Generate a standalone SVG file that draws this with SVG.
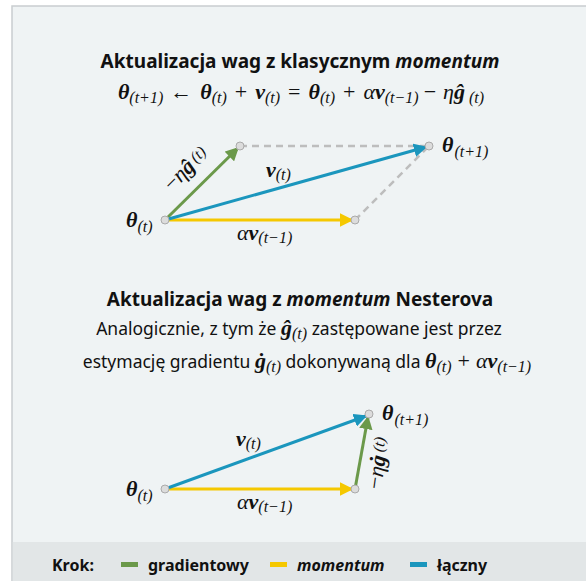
<svg xmlns="http://www.w3.org/2000/svg" width="586" height="581" viewBox="0 0 586 581">
<defs>
<style>
.h{font-family:"Noto Sans","Open Sans",sans-serif;font-weight:bold;font-size:19px;fill:#111}
.t{font-family:"Noto Sans","Open Sans",sans-serif;font-size:17.5px;fill:#111}
.m{font-family:"Liberation Serif","DejaVu Serif",serif;font-size:22px;fill:#111}
.mb{font-weight:bold;font-style:italic}
.mi{font-style:italic}
.s{font-size:16px;font-style:italic;font-weight:normal}
.lg{font-family:"Noto Sans","Open Sans",sans-serif;font-weight:bold;font-size:16px;fill:#111}
.dash{stroke:#bdbdbd;stroke-width:2.5;stroke-dasharray:7 5;fill:none}
.pt{fill:#dcdcdc;stroke:#aaaaaa;stroke-width:1}
.g{stroke:#6b994a;stroke-width:3;fill:none}
.y{stroke:#f5c800;stroke-width:3;fill:none}
.b{stroke:#1b96bd;stroke-width:3;fill:none}
</style>
<marker id="ag" viewBox="0 0 10 10" refX="9" refY="5" markerWidth="4.5" markerHeight="4.5" orient="auto" markerUnits="strokeWidth"><path d="M0,0 L10,5 L0,10 z" fill="#6b994a"/></marker>
<marker id="ay" viewBox="0 0 10 10" refX="9" refY="5" markerWidth="4.5" markerHeight="4.5" orient="auto" markerUnits="strokeWidth"><path d="M0,0 L10,5 L0,10 z" fill="#f5c800"/></marker>
<marker id="ab" viewBox="0 0 10 10" refX="9" refY="5" markerWidth="4.5" markerHeight="4.5" orient="auto" markerUnits="strokeWidth"><path d="M0,0 L10,5 L0,10 z" fill="#1b96bd"/></marker>
</defs>
<rect x="0" y="0" width="586" height="581" fill="#ffffff"/>
<rect x="12" y="6" width="580" height="580" fill="#eff3f4" stroke="#c9cdcf" stroke-width="1.5"/>
<rect x="12.75" y="542" width="580" height="45" fill="#e2e6e7"/>

<g id="title1">
<text class="h" x="300" y="68" text-anchor="middle">Aktualizacja wag z klasycznym <tspan font-style="italic">momentum</tspan></text>
<text class="m" x="301" y="99" text-anchor="middle"><tspan class="mb">θ</tspan><tspan class="s" dy="4">(t+1)</tspan><tspan dy="-4" dx="7">←</tspan><tspan class="mb" dx="8">θ</tspan><tspan class="s" dy="4">(t)</tspan><tspan dy="-4" dx="8">+</tspan><tspan class="mb" dx="8">ν</tspan><tspan class="s" dy="4">(t)</tspan><tspan dy="-4" dx="8">=</tspan><tspan class="mb" dx="8">θ</tspan><tspan class="s" dy="4">(t)</tspan><tspan dy="-4" dx="8">+</tspan><tspan class="mi" dx="8">α</tspan><tspan class="mb">ν</tspan><tspan class="s" dy="4">(t−1)</tspan><tspan dy="-4" dx="5">−</tspan><tspan class="mi" dx="7">η</tspan><tspan class="mb">ĝ</tspan><tspan class="s" dy="4" dx="4">(t)</tspan></text>
</g>

<g id="connectors">
<line class="dash" x1="240" y1="146" x2="429" y2="146"/>
<line class="dash" x1="355" y1="220" x2="429" y2="146"/>
<line class="g" x1="165" y1="220" x2="238" y2="148" marker-end="url(#ag)"/>
<line class="y" x1="165" y1="220" x2="352" y2="220" marker-end="url(#ay)"/>
<line class="b" x1="165" y1="220" x2="426" y2="147" marker-end="url(#ab)"/>
<line class="y" x1="165" y1="489" x2="352" y2="489" marker-end="url(#ay)"/>
<line class="g" x1="355" y1="489" x2="368" y2="417" marker-end="url(#ag)"/>
<line class="b" x1="165" y1="489" x2="366" y2="416" marker-end="url(#ab)"/>
</g>

<g id="node-theta-t-1">
<circle class="pt" cx="165" cy="220" r="4"/>
<text class="m" x="126" y="227" font-size="23"><tspan class="mb">θ</tspan><tspan class="s" dy="5" font-size="17">(t)</tspan></text>
</g>
<g id="node-g-1"><circle class="pt" cx="240" cy="146" r="4"/></g>
<g id="node-alpha-1"><circle class="pt" cx="355" cy="220" r="4"/></g>
<g id="node-theta-t1-1">
<circle class="pt" cx="429" cy="146" r="4"/>
<text class="m" x="442" y="152" font-size="23"><tspan class="mb">θ</tspan><tspan class="s" dy="5" font-size="17" dx="1">(t+1)</tspan></text>
</g>
<g id="labels-1">
<text class="m" x="266" y="177" font-size="20"><tspan class="mb">ν</tspan><tspan class="s" dy="3" font-size="15">(t)</tspan></text>
<text class="m" x="237" y="240" font-size="20"><tspan class="mi">α</tspan><tspan class="mb">ν</tspan><tspan class="s" dy="3" font-size="15">(t−1)</tspan></text>
<text class="m" transform="translate(172,192) rotate(-45)" font-size="21"><tspan>−</tspan><tspan class="mi">η</tspan><tspan class="mb">ĝ</tspan><tspan class="s" dy="-3" dx="3" font-size="14">(t)</tspan></text>
</g>

<g id="title2">
<text class="h" x="300" y="306" text-anchor="middle">Aktualizacja wag z <tspan font-style="italic">momentum</tspan> Nesterova</text>
<text class="t" x="299" y="335" text-anchor="middle">Analogicznie, z tym że <tspan class="m mb" font-size="21">ĝ</tspan><tspan class="m s" dy="4">(t)</tspan><tspan dy="-4"> zastępowane jest przez</tspan></text>
<text class="t" x="307" y="368" text-anchor="middle">estymację gradientu <tspan class="m mb" font-size="21">ġ</tspan><tspan class="m s" dy="4">(t)</tspan><tspan dy="-4"> dokonywaną dla </tspan><tspan class="m mb" font-size="21">θ</tspan><tspan class="m s" dy="4">(t)</tspan><tspan class="m" font-size="21" dy="-4" dx="6">+</tspan><tspan class="m mi" font-size="21" dx="6">α</tspan><tspan class="m mb" font-size="21">ν</tspan><tspan class="m s" dy="4">(t−1)</tspan></text>
</g>

<g id="node-theta-t-2">
<circle class="pt" cx="165" cy="489" r="4"/>
<text class="m" x="126" y="496" font-size="23"><tspan class="mb">θ</tspan><tspan class="s" dy="5" font-size="17">(t)</tspan></text>
</g>
<g id="node-alpha-2"><circle class="pt" cx="355" cy="489" r="4"/></g>
<g id="node-theta-t1-2">
<circle class="pt" cx="369" cy="414" r="4"/>
<text class="m" x="382" y="420" font-size="23"><tspan class="mb">θ</tspan><tspan class="s" dy="5" font-size="17" dx="1">(t+1)</tspan></text>
</g>
<g id="labels-2">
<text class="m" x="236" y="446" font-size="20"><tspan class="mb">ν</tspan><tspan class="s" dy="3" font-size="15">(t)</tspan></text>
<text class="m" x="237" y="509" font-size="20"><tspan class="mi">α</tspan><tspan class="mb">ν</tspan><tspan class="s" dy="3" font-size="15">(t−1)</tspan></text>
<text class="m" transform="translate(381,490) rotate(-82)" font-size="21"><tspan>−</tspan><tspan class="mi">η</tspan><tspan class="mb">ġ</tspan><tspan class="s" dy="-3" dx="3" font-size="14">(t)</tspan></text>
</g>

<g id="legend">
<text class="lg" x="52" y="571">Krok:</text>
<rect x="121" y="562" width="17" height="5" fill="#6b994a"/>
<text class="lg" x="148" y="571">gradientowy</text>
<rect x="270" y="562" width="17" height="5" fill="#f5c800"/>
<text class="lg" x="297" y="571" font-style="italic">momentum</text>
<rect x="410" y="562" width="17" height="5" fill="#1b96bd"/>
<text class="lg" x="437" y="571">łączny</text>
</g>
</svg>
